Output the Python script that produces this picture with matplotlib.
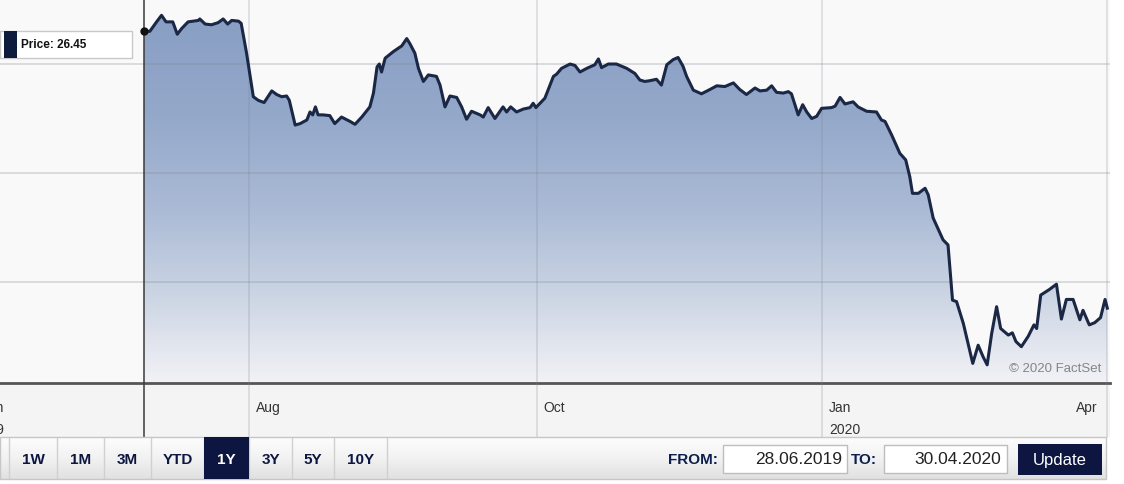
import numpy as np
import matplotlib.pyplot as plt
from matplotlib.colors import LinearSegmentedColormap
from matplotlib.patches import Rectangle
from matplotlib.transforms import offset_copy

plt.rcParams['font.family'] = ['Liberation Sans', 'DejaVu Sans']

# trading sessions since 28.06.2019 and closing price
day = [0, 1.3, 2.8, 3.9, 4.9, 6.4, 7.4, 8.4, 9.8, 12.1,
       12.4, 13.6, 15.0, 16.5, 17.6, 18.6, 19.5, 21.0, 21.6, 22.8,
       24.3, 25.4, 26.7, 28.4, 29.5, 30.6, 31.7, 32.3, 33.6, 34.7,
       36.2, 36.9, 37.5, 38.1, 38.7, 39.8, 41.3, 42.4, 43.9, 45.8,
       46.9, 48.4, 50.2, 51.0, 51.8, 52.3, 52.8, 53.6, 55.4, 57.3,
       58.4, 59.1, 60.2, 61.0, 62.1, 63.2, 65.0, 65.8, 66.9, 68.0,
       69.5, 70.6, 71.7, 72.8, 74.7, 75.4, 76.5, 78.0, 79.8, 80.6,
       81.5, 82.8, 84.3, 85.8, 86.5, 87.1, 89.1, 91.0, 91.7, 92.8,
       94.7, 95.8, 96.9, 98.4, 100.2, 101.0, 101.7, 103.2, 105.0, 107.3,
       109.1, 110.2, 111.3, 112.4, 113.9, 115.0, 116.2, 117.6, 118.7, 119.8,
       120.6, 122.1, 123.9, 125.8, 127.3, 129.1, 131.0, 132.4, 133.9, 135.8,
       136.9, 138.4, 139.5, 140.6, 142.1, 143.2, 143.9, 145.4, 146.4, 147.3,
       148.4, 149.5, 150.6, 152.8, 153.6, 154.7, 155.8, 157.6, 158.7, 160.6,
       162.8, 163.9, 164.7, 166.2, 168.0, 169.3, 170.2, 170.8, 172.1, 173.6,
       174.3, 175.4, 177.6, 178.7, 179.7, 180.6, 182.1, 184.2, 185.4, 186.5,
       187.4, 188.4, 189.5, 190.4, 192.1, 193.0, 193.8, 195.0, 196.5, 197.8,
       198.4, 199.3, 201.3, 202.8, 203.9, 205.0, 206.5, 208.0, 208.7, 210.1,
       211.3, 212.6, 213.6, 214.1]
price = [26.45, 26.45, 26.58, 26.67, 26.58, 26.58, 26.41, 26.49, 26.58, 26.60,
         26.62, 26.55, 26.54, 26.57, 26.62, 26.55, 26.60, 26.59, 26.56, 26.15,
         25.55, 25.50, 25.47, 25.63, 25.58, 25.55, 25.56, 25.50, 25.16, 25.18,
         25.23, 25.34, 25.30, 25.41, 25.30, 25.30, 25.29, 25.18, 25.27, 25.21,
         25.17, 25.27, 25.41, 25.60, 25.96, 26.00, 25.89, 26.08, 26.17, 26.25,
         26.35, 26.28, 26.15, 25.94, 25.76, 25.85, 25.83, 25.71, 25.41, 25.56,
         25.54, 25.41, 25.24, 25.35, 25.30, 25.27, 25.40, 25.25, 25.41, 25.34,
         25.41, 25.34, 25.38, 25.40, 25.46, 25.40, 25.53, 25.83, 25.86, 25.94,
         26.00, 25.98, 25.89, 25.94, 25.99, 26.07, 25.95, 26.00, 26.00, 25.94,
         25.87, 25.78, 25.76, 25.77, 25.79, 25.71, 25.99, 26.06, 26.09, 25.97,
         25.83, 25.64, 25.59, 25.65, 25.70, 25.69, 25.74, 25.65, 25.58, 25.67,
         25.63, 25.64, 25.70, 25.61, 25.60, 25.62, 25.59, 25.30, 25.44, 25.34,
         25.25, 25.28, 25.39, 25.40, 25.42, 25.54, 25.45, 25.48, 25.41, 25.35,
         25.34, 25.23, 25.21, 25.02, 24.77, 24.68, 24.45, 24.22, 24.22, 24.29,
         24.20, 23.88, 23.58, 23.51, 22.75, 22.73, 22.43, 21.88, 22.13, 21.97,
         21.86, 22.29, 22.66, 22.36, 22.27, 22.30, 22.18, 22.11, 22.25, 22.41,
         22.36, 22.82, 22.90, 22.97, 22.49, 22.76, 22.76, 22.48, 22.61, 22.41,
         22.44, 22.51, 22.76, 22.64]

tick_days = [-32.6, 23.3, 87.3, 150.7, 214.0]
tick_months = ['Jun', 'Aug', 'Oct', 'Jan', 'Apr']
tick_years = ['2019', '', '', '2020', '']
grid_prices = [26.0, 24.5, 23.0]
buttons = ['1W', '1M', '3M', 'YTD', '1Y', '3Y', '5Y', '10Y']
active = '1Y'
date_from = '28.06.2019'
date_to = '30.04.2020'

W, H = 1124, 484
navy = '#0c1640'
fig = plt.figure(figsize=(W / 100, H / 100), dpi=100, facecolor='white')

# band behind the month labels
fig.add_artist(Rectangle((0, 1 - 437 / H), 1110 / W, 54 / H, transform=fig.transFigure,
                         facecolor='#f4f4f4', edgecolor='none', zorder=-1))

ax = fig.add_axes([0, 1 - 383 / H, 1110 / W, 383 / H])
ax.set_facecolor('#f9f9f9')
x0, x1 = -32.0, 214.7
y0, y1 = 21.61, 26.881

fill_cmap = LinearSegmentedColormap.from_list(
    'fs', [(0, '#879dc3'), (0.3, '#94a8ca'), (0.55, '#abbbd6'), (0.75, '#c8d2e2'), (1, '#f2f2f6')])
poly = ax.fill_between(day, price, y0, facecolor='none', edgecolor='none')
im = ax.imshow(np.linspace(0, 1, 256).reshape(-1, 1), cmap=fill_cmap, aspect='auto',
               extent=[x0, x1, y0, y1], origin='upper', zorder=1, interpolation='bilinear')
im.set_clip_path(poly.get_paths()[0], transform=ax.transData)
ax.plot(day, price, color='#1a2745', lw=2.2, zorder=4, solid_joinstyle='round')

for gp in grid_prices:
    ax.axhline(gp, color='#7f8590', alpha=0.28, lw=1.3, zorder=3)
for td in tick_days[1:]:
    ax.axvline(td, ymin=-54 / 383, ymax=1, clip_on=False, color='#7f8590', alpha=0.25, lw=1.2, zorder=3)

# hover marker
ax.axvline(day[0], ymin=-54 / 383, ymax=1, clip_on=False, color='#3a3a3a', lw=1.1, zorder=5)
ax.plot(day[0], price[0], 'o', ms=5, color='#111111', zorder=6)

ax.set_xlim(x0, x1)
ax.set_ylim(y0, y1)
ax.set_xticks([])
ax.set_yticks([])
for s in ['top', 'left', 'right']:
    ax.spines[s].set_visible(False)
ax.spines['bottom'].set_color('#555555')
ax.spines['bottom'].set_linewidth(2)

xt = ax.get_xaxis_transform()
for td, m, yr in zip(tick_days, tick_months, tick_years):
    if m == 'Apr':
        tr, ha = offset_copy(xt, fig=fig, x=-9, y=0, units='dots'), 'right'
    elif m == 'Jun':
        tr, ha = offset_copy(xt, fig=fig, x=7, y=0, units='dots'), 'right'
    else:
        tr, ha = offset_copy(xt, fig=fig, x=7, y=0, units='dots'), 'left'
    ax.text(td, -25 / 383, m, transform=tr, ha=ha, va='center', fontsize=10, color='#333333', clip_on=False)
    if yr:
        ax.text(td, -47 / 383, yr, transform=tr, ha=ha, va='center', fontsize=10, color='#333333', clip_on=False)

ax.text(1101 / 1110, 14 / 383, '© 2020 FactSet', transform=ax.transAxes, ha='right', va='center',
        fontsize=9.5, color='#858585', zorder=6)

# overlay in pixel units for the widget controls
ui = fig.add_axes([0, 0, 1, 1], zorder=10)
ui.patch.set_alpha(0)

ui.add_patch(Rectangle((0, 31), 132, 27, facecolor='white', edgecolor='#c9c9c9', lw=1))
ui.add_patch(Rectangle((4, 31), 13, 27, facecolor='#0d1b3d', edgecolor='none'))
ui.text(21, 45, f'Price: {price[0]:.2f}', fontsize=8.5, fontweight='bold', va='center', color='#111111')

bar_cmap = LinearSegmentedColormap.from_list('bar', ['#fdfdfd', '#f2f2f2', '#e1e1e1'])
ui.imshow(np.linspace(0, 1, 64).reshape(-1, 1), cmap=bar_cmap, aspect='auto',
          extent=(0, 1106, 479, 437), origin='upper', interpolation='bilinear', zorder=1)
ui.add_patch(Rectangle((0, 437), 1106, 42, fill=False, edgecolor='#c6c6c6', lw=1, zorder=2))

edges = [9, 57, 104, 151, 204, 249, 292, 334, 387]
for e in edges:
    ui.plot([e, e], [438, 478], color='#d0d0d0', lw=1, zorder=2)
for i, b in enumerate(buttons):
    cx = (edges[i] + edges[i + 1]) / 2
    col = navy
    if b == active:
        ui.add_patch(Rectangle((edges[i], 437), edges[i + 1] - edges[i], 42, facecolor=navy,
                               edgecolor='none', zorder=3))
        col = 'white'
    ui.text(cx, 460, b, ha='center', va='center', fontsize=11, fontweight='bold', color=col, zorder=4)

ui.text(718, 460, 'FROM:', ha='right', va='center', fontsize=11, fontweight='bold', color='#0d1f4d', zorder=4)
ui.add_patch(Rectangle((723, 445), 124, 28, facecolor='white', edgecolor='#bdbdbd', lw=1, zorder=3))
ui.text(842, 460, date_from, ha='right', va='center', fontsize=12.5, color='#222222', zorder=4)
ui.text(851, 460, 'TO:', ha='left', va='center', fontsize=11, fontweight='bold', color='#0d1f4d', zorder=4)
ui.add_patch(Rectangle((884, 445), 123, 28, facecolor='white', edgecolor='#bdbdbd', lw=1, zorder=3))
ui.text(1001, 460, date_to, ha='right', va='center', fontsize=12.5, color='#222222', zorder=4)
ui.add_patch(Rectangle((1018, 444), 84, 31, facecolor=navy, edgecolor='none', zorder=3))
ui.text(1060, 460, 'Update', ha='center', va='center', fontsize=12, color='white', zorder=4)

ui.set_xlim(0, W)
ui.set_ylim(H, 0)
ui.axis('off')

fig.savefig('out.png', dpi=100, facecolor='white')
